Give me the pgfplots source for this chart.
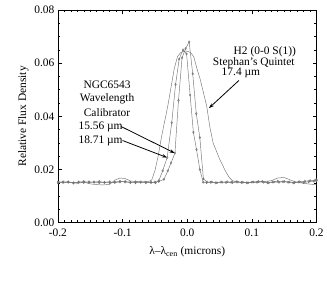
\documentclass[border=0pt]{standalone}
\usepackage{fontspec}
\setmainfont{Liberation Serif}
\usepackage{pgfplots}
\pgfplotsset{compat=1.18}
\usetikzlibrary{arrows.meta}

\begin{document}
\begin{tikzpicture}
\begin{axis}[
  scale only axis, width=259bp, height=213bp,
  xmin=-0.2, xmax=0.2, ymin=0, ymax=0.08,
  xtick={-0.2,-0.1,0,0.1,0.2}, ytick={0,0.02,0.04,0.06,0.08},
  minor x tick num=9, minor y tick num=3,
  tick align=inside, tick pos=both,
  major tick length=4bp, minor tick length=2.2bp,
  axis line style={line width=0.6bp},
  every tick/.style={line width=0.5bp, black},
  xticklabel style={yshift=-3bp, /pgf/number format/.cd, fixed, fixed zerofill, precision=1},
  yticklabel style={/pgf/number format/.cd, fixed, fixed zerofill, precision=2},
  /pgf/number format/assume math mode=true,
  scaled y ticks=false, scaled x ticks=false,
  tick label style={font=\fontsize{11.5}{13}\selectfont},
  label style={font=\fontsize{11.5}{13}\selectfont},
  xlabel={λ–λ\textsubscript{cen} (microns)},
  ylabel={Relative Flux Density},
  xlabel style={yshift=-3bp},
  ylabel style={yshift=-1bp},
  every axis plot/.append style={line width=0.45bp, color=black!55},
]
% NGC6543 15.56 um
\addplot[mark=diamond, mark size=1.1bp, mark options={solid}] coordinates {
(-0.200,0.0153) (-0.192,0.0151) (-0.184,0.0154) (-0.176,0.0150) (-0.168,0.0152)
(-0.160,0.0155) (-0.152,0.0151) (-0.144,0.0153) (-0.136,0.0150) (-0.128,0.0152)
(-0.120,0.0154) (-0.112,0.0151) (-0.104,0.0153) (-0.096,0.0155) (-0.088,0.0152)
(-0.080,0.0150) (-0.072,0.0153) (-0.064,0.0152) (-0.056,0.0151) (-0.050,0.0153)
(-0.044,0.0155) (-0.036,0.0163) (-0.030,0.0195) (-0.025,0.0225) (-0.019,0.0262)
(-0.0135,0.046) (-0.008,0.062) (-0.0025,0.0655) (0.003,0.0680) (0.0085,0.056)
(0.014,0.041) (0.0195,0.032) (0.025,0.0165) (0.0305,0.0153) (0.036,0.0152)
(0.044,0.0150) (0.052,0.0153) (0.060,0.0151) (0.068,0.0152) (0.076,0.0154)
(0.084,0.0151) (0.092,0.0150) (0.100,0.0153) (0.108,0.0152) (0.116,0.0155)
(0.124,0.0151) (0.132,0.0153) (0.140,0.0156) (0.148,0.0154) (0.156,0.0152)
(0.164,0.0150) (0.172,0.0153) (0.180,0.0151) (0.188,0.0154) (0.196,0.0156)
(0.200,0.0158)
};
% NGC6543 18.71 um
\addplot[mark=diamond, mark size=1.1bp, mark options={solid}] coordinates {
(-0.200,0.0150) (-0.192,0.0154) (-0.184,0.0152) (-0.176,0.0149) (-0.168,0.0153)
(-0.160,0.0151) (-0.152,0.0154) (-0.144,0.0152) (-0.136,0.0155) (-0.128,0.0151)
(-0.120,0.0150) (-0.112,0.0153) (-0.104,0.0156) (-0.096,0.0153) (-0.088,0.0151)
(-0.080,0.0154) (-0.072,0.0152) (-0.064,0.0150) (-0.056,0.0152) (-0.049,0.0150)
(-0.044,0.0158) (-0.038,0.0195) (-0.031,0.0245) (-0.024,0.0376) (-0.018,0.052)
(-0.0125,0.0615) (-0.0065,0.0650) (-0.001,0.0635) (0.0045,0.048) (0.0095,0.034)
(0.0144,0.0275) (0.0195,0.0200) (0.0247,0.0152) (0.030,0.0151) (0.038,0.0153)
(0.046,0.0150) (0.054,0.0152) (0.062,0.0154) (0.070,0.0151) (0.078,0.0153)
(0.086,0.0152) (0.094,0.0150) (0.102,0.0153) (0.110,0.0155) (0.118,0.0152)
(0.126,0.0150) (0.134,0.0153) (0.142,0.0152) (0.150,0.0155) (0.158,0.0153)
(0.166,0.0151) (0.174,0.0154) (0.182,0.0156) (0.190,0.0158) (0.198,0.0160)
(0.200,0.0161)
};
% Stephan's Quintet H2 17.4 um
\addplot[no marks] coordinates {
(-0.200,0.0155) (-0.190,0.0150) (-0.180,0.0152) (-0.170,0.0148) (-0.160,0.0152)
(-0.150,0.0146) (-0.140,0.0143) (-0.130,0.0142) (-0.120,0.0144) (-0.112,0.0160)
(-0.104,0.0168) (-0.096,0.0166) (-0.088,0.0157) (-0.080,0.0155) (-0.070,0.0156)
(-0.060,0.0155) (-0.055,0.0160) (-0.050,0.0195) (-0.045,0.0250) (-0.040,0.0320)
(-0.035,0.0380) (-0.030,0.0440) (-0.025,0.0510) (-0.020,0.0580) (-0.015,0.0625)
(-0.010,0.0640) (-0.005,0.0645) (0.000,0.0645) (0.005,0.0640) (0.010,0.0625)
(0.015,0.0580) (0.020,0.0540) (0.025,0.0490) (0.030,0.0440) (0.035,0.0360)
(0.040,0.0300) (0.045,0.0270) (0.050,0.0240) (0.055,0.0215) (0.060,0.0190)
(0.065,0.0170) (0.070,0.0158) (0.075,0.0155) (0.080,0.0153) (0.090,0.0152)
(0.100,0.0150) (0.110,0.0152) (0.120,0.0155) (0.130,0.0158) (0.140,0.0168)
(0.150,0.0170) (0.160,0.0160) (0.170,0.0152) (0.180,0.0148) (0.190,0.0145)
(0.200,0.0143)
};
% annotations
\begin{scope}[font=\fontsize{11.5}{13}\selectfont]
\node at (axis cs:-0.124,0.0518) {NGC6543};
\node at (axis cs:-0.124,0.0466) {Wavelength};
\node at (axis cs:-0.124,0.0413) {Calibrator};
\node at (axis cs:-0.134,0.0360) {15.56 µm};
\node at (axis cs:-0.134,0.0307) {18.71 µm};
\node at (axis cs:0.120,0.0642) {H2 (0-0 S(1))};
\node at (axis cs:0.103,0.0601) {Stephan’s Quintet};
\node at (axis cs:0.083,0.0563) {17.4 µm};
\end{scope}
\draw[-{Stealth[length=5bp,width=3.5bp]}, line width=0.8bp, black] (axis cs:-0.1025,0.0362) -- (axis cs:-0.0195,0.0262);
\draw[-{Stealth[length=5bp,width=3.5bp]}, line width=0.8bp, black] (axis cs:-0.1000,0.0309) -- (axis cs:-0.0312,0.0245);
\draw[-{Stealth[length=5bp,width=3.5bp]}, line width=0.8bp, black] (axis cs:0.0800,0.0535) -- (axis cs:0.0337,0.0431);
\end{axis}
\path (-58bp,-75bp) rectangle (269bp,223bp);
\end{tikzpicture}
\end{document}
